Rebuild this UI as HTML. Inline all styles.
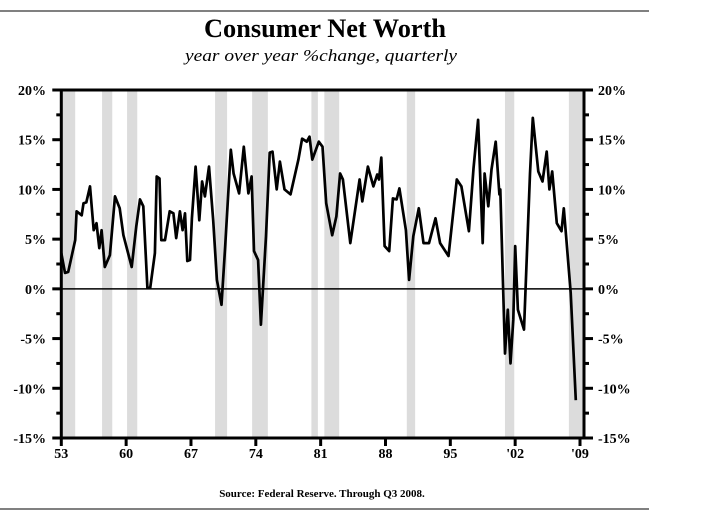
<!DOCTYPE html>
<html><head><meta charset="utf-8"><style>
html,body{margin:0;padding:0;background:#fff;}
svg{display:block;font-family:"Liberation Serif",serif;}
</style></head><body>
<svg id="chart" width="707" height="514" viewBox="0 0 707 514" xmlns="http://www.w3.org/2000/svg">
<line x1="0" y1="11" x2="649" y2="11" stroke="#000" stroke-width="1"/>
<line x1="0" y1="509" x2="649" y2="509" stroke="#000" stroke-width="1"/>
<text x="325" y="37" text-anchor="middle" font-size="26" font-weight="bold" textLength="242" lengthAdjust="spacingAndGlyphs">Consumer Net Worth</text>
<text x="321" y="61" text-anchor="middle" font-size="17" font-style="italic" textLength="272" lengthAdjust="spacingAndGlyphs">year over year %change, quarterly</text>
<g id="bands"></g>
<g id="axes"></g>
<path id="line" fill="none" stroke="#000" stroke-width="2.7" stroke-linejoin="round"/>
<text x="322" y="497" text-anchor="middle" font-size="11" font-weight="bold">Source:  Federal Reserve. Through Q3 2008.</text>
</svg>
<script>
const years=[1953.0,1953.4,1953.75,1954.5,1954.65,1955.2,1955.4,1955.7,1956.1,1956.5,1956.8,1957.1,1957.35,1957.7,1958.25,1958.8,1959.3,1959.7,1960.6,1961.1,1961.5,1961.85,1962.3,1962.6,1963.1,1963.3,1963.6,1963.8,1964.2,1964.7,1965.1,1965.4,1965.8,1966.1,1966.35,1966.6,1966.9,1967.1,1967.5,1967.9,1968.2,1968.5,1968.95,1969.4,1969.8,1970.3,1970.7,1971.3,1971.6,1972.2,1972.7,1973.2,1973.55,1973.8,1974.25,1974.55,1975.1,1975.5,1975.8,1976.25,1976.6,1977.1,1977.75,1978.6,1979.0,1979.5,1979.8,1980.1,1980.8,1981.2,1981.6,1982.25,1982.7,1983.1,1983.4,1984.2,1985.2,1985.5,1986.1,1986.7,1987.1,1987.3,1987.55,1987.9,1988.4,1988.8,1989.2,1989.5,1990.2,1990.55,1991.0,1991.6,1992.1,1992.7,1993.4,1993.9,1994.8,1995.7,1996.2,1997.0,1997.5,1998.0,1998.5,1998.7,1999.1,1999.45,1999.9,2000.3,2000.4,2000.9,2001.2,2001.5,2001.8,2002.0,2002.3,2002.95,2003.6,2003.9,2004.5,2004.95,2005.4,2005.7,2006.0,2006.5,2007.0,2007.25,2007.5,2008.0,2008.55];
const values=[3.6,1.6,1.7,4.9,7.8,7.4,8.6,8.7,10.3,5.9,6.6,4.1,5.9,2.2,3.4,9.3,8.1,5.4,2.2,6.3,9.0,8.3,0.1,0.1,3.6,11.3,11.1,4.9,4.9,7.8,7.6,5.1,7.8,5.9,7.6,2.8,2.9,7.1,12.3,6.9,10.8,9.3,12.3,6.9,0.9,-1.6,4.3,14.0,11.6,9.6,14.3,9.6,11.3,3.8,2.9,-3.6,5.3,13.7,13.8,10.0,12.8,10.0,9.5,13.0,15.1,14.8,15.3,13.0,14.8,14.3,8.6,5.4,7.3,11.6,11.0,4.6,11.0,8.8,12.3,10.3,11.5,11.0,13.2,4.3,3.8,9.1,9.0,10.1,5.9,0.9,5.3,8.1,4.6,4.6,7.1,4.6,3.3,11.0,10.3,5.8,12.1,17.0,4.6,11.6,8.3,12.0,14.8,9.5,10.0,-6.5,-2.1,-7.5,-3.1,4.3,-2.1,-4.1,11.6,17.2,11.8,10.8,13.8,10.0,11.8,6.6,5.8,8.1,5.3,-0.4,-11.2];
const bandStarts=[1953.0,1957.4,1960.1,1969.6,1973.6,1980.0,1981.4,1990.3,2000.9,2007.8];
const bandEnds=[1954.5,1958.5,1961.2,1970.9,1975.3,1980.7,1983.0,1991.2,2001.9,2009.3];
const yTicks=[20,15,10,5,0,-5,-10,-15];
const yTickLabels=["20%","15%","10%","5%","0%","-5%","-10%","-15%"];
const xTicks=[1953,1960,1967,1974,1981,1988,1995,2002,2009];
const xTickLabels=["53","60","67","74","81","88","95","'02","'09"];

const L=61.3,R=584,T=90,B=438;
const x0=1953,x1=2009,px1=580;
const X=v=>L+(v-x0)*(px1-L)/(x1-x0);
const Y=v=>T+(20-v)*(B-T)/35;
const NS="http://www.w3.org/2000/svg";
function mk(tag,attrs,parent){const e=document.createElementNS(NS,tag);for(const k in attrs)e.setAttribute(k,attrs[k]);parent.appendChild(e);return e;}
const bands=document.getElementById('bands');
for(let i=0;i<bandStarts.length;i++){
  const a=Math.max(L,X(bandStarts[i])),b=Math.min(R,X(bandEnds[i]));
  const r=mk('rect',{x:a,y:T,width:b-a,height:B-T,fill:'#dcdcdc'},bands);
  
  
}
const ax=document.getElementById('axes');
const frame=mk('path',{d:`M${L},${T}H${R}V${B}H${L}Z`,fill:'none',stroke:'#000','stroke-width':3},ax);


const zl=mk('line',{x1:L,x2:R,y1:Y(0),y2:Y(0),stroke:'#000','stroke-width':1.5},ax);


for(let v=-15;v<=20;v+=2.5){
  const major=(v%5===0);const len=major?9:5;const y=Y(v);
  mk('line',{x1:L-len,x2:L,y1:y,y2:y,stroke:'#000','stroke-width':3},ax);
  mk('line',{x1:R,x2:R+len,y1:y,y2:y,stroke:'#000','stroke-width':3},ax);
}
yTicks.forEach((v,i)=>{
  const t1=mk('text',{x:46,y:Y(v)+5,'text-anchor':'end','font-size':14,'font-weight':'bold'},ax);
  t1.textContent=yTickLabels[i];
  
  
  const t2=mk('text',{x:598,y:Y(v)+5,'text-anchor':'start','font-size':14,'font-weight':'bold'},ax);
  t2.textContent=yTickLabels[i];
  
  
});
xTicks.forEach((v,i)=>{
  const x=X(v);
  mk('line',{x1:x,x2:x,y1:B,y2:B+8,stroke:'#000','stroke-width':3},ax);
  const t=mk('text',{x:x,y:B+20,'text-anchor':'middle','font-size':14,'font-weight':'bold'},ax);
  t.textContent=xTickLabels[i];
  
  
});
document.getElementById('line').setAttribute('d',years.map((yr,i)=>(i?'L':'M')+X(yr).toFixed(1)+','+Y(values[i]).toFixed(1)).join(''));
</script>
</body></html>
